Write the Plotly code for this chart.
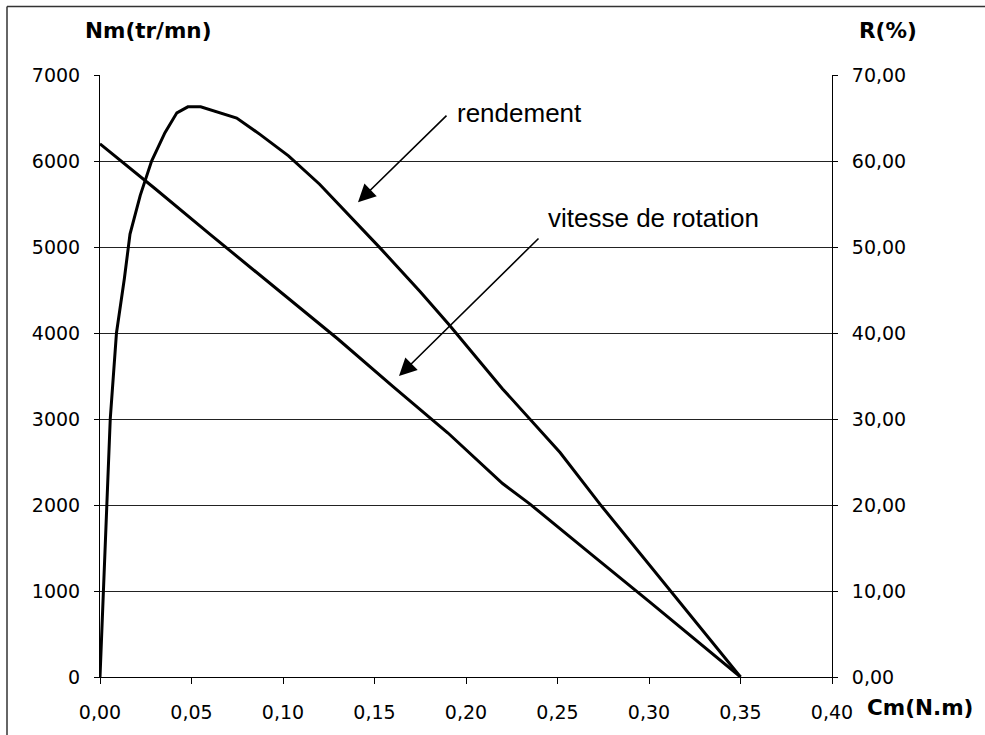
import plotly.graph_objects as go

# ---- data ----
cm_vitesse = [0.0, 0.01, 0.03, 0.06, 0.10, 0.13, 0.16, 0.19, 0.22, 0.235, 0.27, 0.30, 0.35]
vitesse = [6200, 6030, 5680, 5150, 4450, 3930, 3380, 2840, 2250, 2010, 1400, 880, 0]

cm_rendement = [0.0, 0.0018, 0.0038, 0.0056, 0.009, 0.0133, 0.0164, 0.022, 0.0282, 0.0355,
                0.042, 0.048, 0.055, 0.0747, 0.0874, 0.103, 0.12, 0.1366, 0.153, 0.175,
                0.191, 0.22, 0.24, 0.2514, 0.2732, 0.3115, 0.35]
rendement = [0.0, 10.0, 20.0, 30.0, 40.0, 46.3, 51.5, 56.0, 60.0, 63.3,
             65.6, 66.3, 66.3, 65.0, 63.1, 60.6, 57.3, 53.6, 49.9, 44.8,
             40.9, 33.5, 28.8, 26.1, 20.1, 10.1, 0.0]

x_range = [0, 0.40]
y_range = [0, 7000]
y2_range = [0, 70]

# ---- layout geometry (pixels) ----
W, H = 985, 735
L, R, T, B = 100, 832, 75, 681


def px_to_data(px, py):
    x = x_range[0] + (px - L) / (R - L) * (x_range[1] - x_range[0])
    y = y_range[0] + (B - py) / (B - T) * (y_range[1] - y_range[0])
    return x, y


def px_to_paper(px, py):
    return (px - L) / (R - L), (B - py) / (B - T)


tick_font = dict(family="DejaVu Sans", size=19, color="black")
title_font = dict(family="DejaVu Sans", size=21.5, color="black")
note_font = dict(family="Liberation Sans, Arial", size=26, color="black")

fig = go.Figure()
fig.add_trace(go.Scatter(x=cm_vitesse, y=vitesse, mode="lines",
                         line=dict(color="black", width=3), yaxis="y",
                         name="vitesse de rotation", showlegend=False))
fig.add_trace(go.Scatter(x=cm_rendement, y=rendement, mode="lines",
                         line=dict(color="black", width=3), yaxis="y2",
                         name="rendement", showlegend=False))

fig.update_layout(
    width=W, height=H,
    margin=dict(l=L, r=W - R, t=T, b=H - B, pad=0),
    paper_bgcolor="white", plot_bgcolor="white",
    separators=",.",
    xaxis=dict(range=x_range, dtick=0.05, tick0=0, tickformat=".2f",
               showgrid=False, zeroline=False, showline=True, linecolor="black",
               linewidth=1, ticks="outside", ticklen=6, tickcolor="black",
               tickfont=tick_font, ticklabelstandoff=12, fixedrange=True),
    yaxis=dict(range=y_range, dtick=1000, tick0=0, tickformat="d",
               showgrid=True, gridcolor="#222", gridwidth=1, zeroline=False,
               showline=True, linecolor="black", linewidth=1,
               ticks="outside", ticklen=5, tickcolor="black",
               tickfont=tick_font, ticklabelstandoff=10),
    yaxis2=dict(range=y2_range, dtick=10, tick0=0, tickformat=".2f",
                overlaying="y", side="right", showgrid=False, zeroline=False,
                showline=True, linecolor="black", linewidth=1,
                ticks="outside", ticklen=5, tickcolor="black",
                tickfont=tick_font, ticklabelstandoff=10),
)

annotations = []
# axis titles
for text, (px, py), xa in [("<b>Nm(tr/mn)</b>", (148, 30), "center"),
                           ("<b>R(%)</b>", (888, 30), "center"),
                           ("<b>Cm(N.m)</b>", (865, 712), "left")]:
    xp, yp = px_to_paper(px, py)
    annotations.append(dict(text=text, x=xp, y=yp, xref="paper", yref="paper",
                            xanchor=xa, yanchor="middle", showarrow=False,
                            font=title_font))

# labels with arrows
for text, (tx, ty), (tipx, tipy), (tailx, taily) in [
        ("rendement", (455, 113), (358, 203), (448, 115)),
        ("vitesse de rotation", (546, 219), (399, 378), (540, 239))]:
    xp, yp = px_to_paper(tx, ty)
    annotations.append(dict(text=text, x=xp, y=yp, xref="paper", yref="paper",
                            xanchor="left", yanchor="middle", showarrow=False,
                            font=note_font))
    dx, dy = px_to_data(tipx, tipy)
    annotations.append(dict(text="", x=dx, y=dy, xref="x", yref="y",
                            showarrow=True, arrowhead=2, arrowsize=2.2,
                            arrowwidth=1.6, arrowcolor="black",
                            ax=tailx - tipx, ay=taily - tipy,
                            standoff=0, startstandoff=0))
fig.update_layout(annotations=annotations)

# outer frame (left and top edges)
x0, y0 = px_to_paper(7, 6)
x1, y1 = px_to_paper(W + 5, H + 5)
fig.add_shape(type="line", xref="paper", yref="paper", x0=x0, y0=y0, x1=x0, y1=y1,
              line=dict(color="#333", width=1.5))
fig.add_shape(type="line", xref="paper", yref="paper", x0=x0, y0=y0, x1=x1, y1=y0,
              line=dict(color="#333", width=1.5))

fig.write_html("out.html", config={"displayModeBar": False},
               post_script="document.body.style.margin='0';document.body.style.overflow='hidden';")
